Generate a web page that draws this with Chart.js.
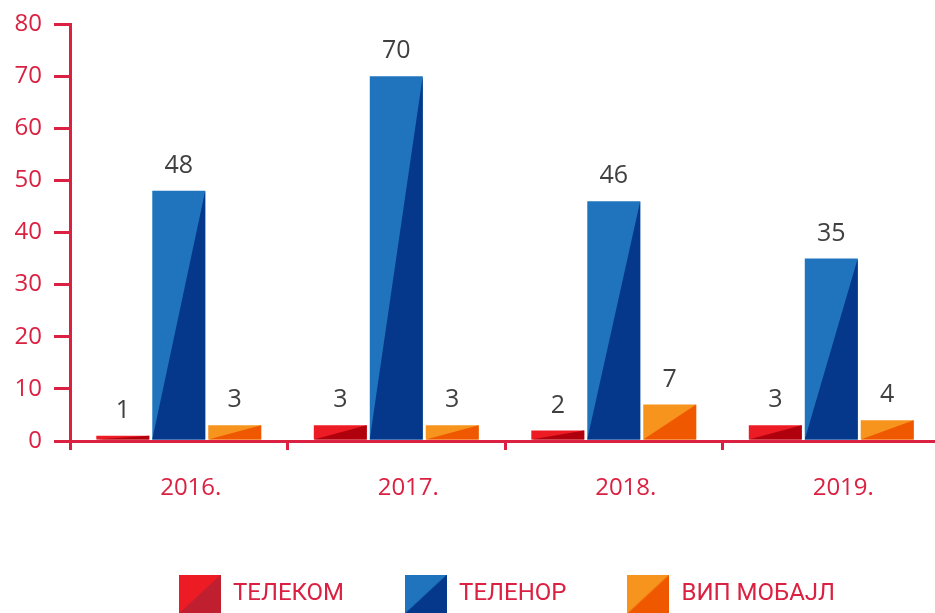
<!DOCTYPE html>
<html><head><meta charset="utf-8">
<script src="https://cdn.jsdelivr.net/npm/chart.js@4/dist/chart.umd.min.js"></script>
<style>html,body{margin:0;padding:0;overflow:hidden;background:#fff}</style>
</head><body>
<canvas id="c" width="940" height="613"></canvas>
<script>
const years = ['2016.', '2017.', '2018.', '2019.'];
const seriesNames = ['ТЕЛЕКОМ', 'ТЕЛЕНОР', 'ВИП МОБАЈЛ'];
const telekom = [1, 3, 2, 3];
const telenor = [48, 70, 46, 35];
const vip = [3, 3, 7, 4];
const yMin = 0, yMax = 80, yStep = 10;
const lightColors = ['#ED1C24', '#1F74BD', '#F7941E'];
const darkColors = ['#B0000E', '#05378A', '#F05800'];
const legendDark = ['#C01F30', '#05378A', '#F05800'];

const RED = '#DB2142';
const NUMFONT = "'Open Sans', 'Noto Sans', sans-serif";
const LEGFONT = "Roboto, sans-serif";

function legendImage(i) {
  const W = 42, H = 39;
  const cv = document.createElement('canvas');
  cv.width = W; cv.height = H;
  const g = cv.getContext('2d');
  g.fillStyle = lightColors[i];
  g.fillRect(0, 0, W, H);
  g.fillStyle = legendDark[i];
  g.beginPath(); g.moveTo(0, H); g.lineTo(W, 0); g.lineTo(W, H); g.closePath(); g.fill();
  return cv;
}

const splitPlugin = {
  id: 'split',
  afterLayout(chart) {
    const l = chart.legend, ca = chart.chartArea;
    if (!l) return;
    const dx = (ca.left + ca.right) / 2 - (l.left + l.right) / 2 + 2;
    l.left += dx; l.right += dx;
    l.top += 3; l.bottom += 3;
  },
  afterDatasetDraw(chart, args) {
    const ctx = chart.ctx;
    const meta = args.meta;
    const ca = chart.chartArea;
    ctx.save();
    ctx.beginPath(); ctx.rect(ca.left, ca.top, ca.right - ca.left, ca.bottom - ca.top); ctx.clip();
    ctx.fillStyle = darkColors[args.index];
    meta.data.forEach(el => {
      const p = el.getProps(['x', 'y', 'base', 'width'], true);
      const l = p.x - p.width / 2, r = p.x + p.width / 2;
      ctx.beginPath();
      ctx.moveTo(l, p.base); ctx.lineTo(r, p.y); ctx.lineTo(r, p.base); ctx.closePath();
      ctx.fill();
    });
    ctx.restore();
  },
  afterDatasetsDraw(chart) {
    const ctx = chart.ctx;
    ctx.save();
    ctx.font = '25px ' + NUMFONT;
    ctx.fillStyle = '#404040';
    ctx.textAlign = 'center';
    ctx.textBaseline = 'alphabetic';
    chart.data.datasets.forEach((ds, di) => {
      chart.getDatasetMeta(di).data.forEach((el, i) => {
        const p = el.getProps(['x', 'y'], true);
        ctx.fillText(String(ds.data[i]), p.x, p.y - 18);
      });
    });
    ctx.restore();
  }
};

const seriesData = [telekom, telenor, vip];
new Chart(document.getElementById('c'), {
  type: 'bar',
  data: {
    labels: years,
    datasets: seriesNames.map((n, i) => ({
      label: n,
      data: seriesData[i],
      backgroundColor: lightColors[i],
      borderWidth: 0,
      categoryPercentage: 0.772,
      barPercentage: 0.946
    }))
  },
  options: {
    responsive: false,
    animation: false,
    devicePixelRatio: 1,
    layout: { padding: { top: 24, left: 0, right: 0, bottom: 0 } },
    plugins: {
      tooltip: { enabled: false },
      legend: {
        position: 'bottom',
        labels: {
          usePointStyle: true,
          pointStyleWidth: 42,
          padding: 61,
          color: RED,
          font: { size: 24, family: LEGFONT },
          generateLabels: (chart) => seriesNames.map((n, i) => ({
            text: n, datasetIndex: i, pointStyle: legendImage(i),
            fillStyle: lightColors[i], strokeStyle: lightColors[i], lineWidth: 0, fontColor: RED
          }))
        }
      }
    },
    scales: {
      x: {
        afterFit: s => { s.height = 77; s.paddingLeft = 0; s.paddingRight = 0; },
        grid: { drawOnChartArea: false, color: RED, lineWidth: 3, tickLength: 9, offset: true },
        border: { color: RED, width: 3 },
        ticks: { color: RED, font: { size: 24, family: NUMFONT }, padding: 24, labelOffset: 12 }
      },
      y: {
        min: yMin, max: yMax,
        afterFit: s => { s.width = 70; s.paddingTop = 0; s.paddingBottom = 0; },
        grid: { drawOnChartArea: false, color: RED, lineWidth: 3, tickLength: 16 },
        border: { color: RED, width: 3 },
        ticks: { stepSize: yStep, color: RED, font: { size: 24, family: NUMFONT }, padding: 12 }
      }
    }
  },
  plugins: [splitPlugin]
});
</script>
</body></html>
